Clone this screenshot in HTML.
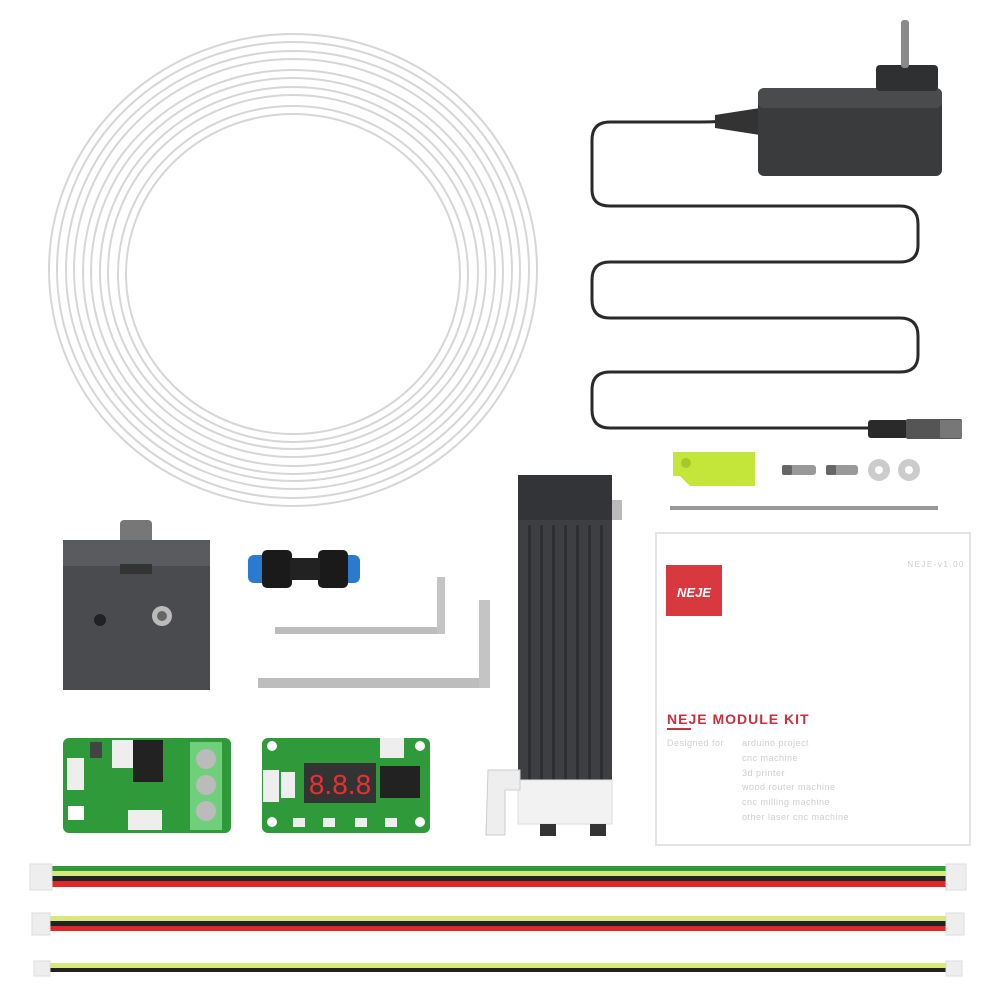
<!DOCTYPE html>
<html><head><style>
html,body{margin:0;padding:0;background:#fff;width:1000px;height:1000px;overflow:hidden}
svg{display:block}
text{font-family:"Liberation Sans",sans-serif}
</style></head><body>
<svg width="1000" height="1000" viewBox="0 0 1000 1000" xmlns="http://www.w3.org/2000/svg">
<rect width="1000" height="1000" fill="#fff"/>
<!-- tube coil -->
<g fill="none" stroke="#d6d6d6" stroke-width="2">
<ellipse cx="293" cy="270" rx="244" ry="236"/>
<ellipse cx="293" cy="270" rx="236" ry="228"/>
<ellipse cx="293" cy="270" rx="227" ry="219"/>
<ellipse cx="293" cy="270" rx="219" ry="211"/>
<ellipse cx="293" cy="272" rx="210" ry="202"/>
<ellipse cx="293" cy="272" rx="202" ry="194"/>
<ellipse cx="293" cy="272" rx="193" ry="185"/>
<ellipse cx="293" cy="272" rx="185" ry="177"/>
<ellipse cx="293" cy="274" rx="175" ry="168"/>
<ellipse cx="293" cy="274" rx="167" ry="160"/>
</g>
<!-- adapter cable -->
<path d="M760 120 L735 120 Q720 122 700 122 L610 122 Q592 122 592 140 L592 190 Q592 206 610 206 L900 206 Q918 206 918 224 L918 245 Q918 262 900 262 L610 262 Q592 262 592 280 L592 300 Q592 318 610 318 L900 318 Q918 318 918 336 L918 355 Q918 372 900 372 L610 372 Q592 372 592 390 L592 410 Q592 428 610 428 L872 428" fill="none" stroke="#2a2a2a" stroke-width="3"/>
<path d="M715 115 L760 108 L760 135 L715 128 Z" fill="#333"/>
<rect x="758" y="88" width="184" height="88" rx="6" fill="#3a3b3d"/>
<rect x="758" y="88" width="184" height="20" rx="6" fill="#4a4b4d"/>
<rect x="876" y="65" width="62" height="26" rx="4" fill="#2f3032"/>
<rect x="901" y="20" width="8" height="48" rx="3" fill="#8a8a8a"/>
<!-- dc plug -->
<rect x="868" y="420" width="40" height="18" rx="3" fill="#2a2a2a"/>
<rect x="906" y="419" width="56" height="20" rx="2" fill="#555"/>
<rect x="940" y="420" width="22" height="18" fill="#777"/>
<!-- bracket, screws, washers -->
<path d="M673 452 L755 452 L755 486 L690 486 L680 476 L673 476 Z" fill="#c4e63a"/>
<rect x="681" y="458" width="10" height="10" rx="5" fill="#a8c82a"/>
<rect x="782" y="465" width="34" height="10" rx="3" fill="#999"/>
<rect x="782" y="465" width="10" height="10" rx="2" fill="#666"/>
<rect x="826" y="465" width="32" height="10" rx="3" fill="#999"/>
<rect x="826" y="465" width="10" height="10" rx="2" fill="#666"/>
<circle cx="879" cy="470" r="11" fill="#ccc"/><circle cx="879" cy="470" r="4" fill="#fff"/>
<circle cx="909" cy="470" r="11" fill="#ccc"/><circle cx="909" cy="470" r="4" fill="#fff"/>
<rect x="670" y="506" width="268" height="4" fill="#999"/>
<!-- manual -->
<rect x="656" y="533" width="314" height="312" fill="#fff" stroke="#e4e4e4" stroke-width="2"/>
<rect x="666" y="565" width="56" height="51" fill="#d8393f"/>
<text x="694" y="597" font-size="13" font-weight="bold" font-style="italic" fill="#fff" text-anchor="middle">NEJE</text>
<text x="965" y="567" font-size="8" fill="#ccc" text-anchor="end" letter-spacing="1.5">NEJE-v1.00</text>
<text x="667" y="724" font-size="14" font-weight="bold" fill="#c8313c" letter-spacing="1">NEJE MODULE KIT</text>
<rect x="667" y="728" width="24" height="2" fill="#c8313c"/>
<g font-size="9" fill="#cfcfcf" letter-spacing="0.5">
<text x="667" y="746">Designed for</text>
<text x="742" y="746">arduino project</text>
<text x="742" y="761">cnc machine</text>
<text x="742" y="776">3d printer</text>
<text x="742" y="790">wood router machine</text>
<text x="742" y="805">cnc milling machine</text>
<text x="742" y="820">other laser cnc machine</text>
</g>
<!-- metal block -->
<rect x="120" y="520" width="32" height="24" rx="4" fill="#777"/>
<rect x="63" y="540" width="147" height="150" fill="#4a4b4e"/>
<rect x="63" y="540" width="147" height="26" fill="#5a5b5e"/>
<rect x="120" y="564" width="32" height="10" fill="#333"/>
<circle cx="100" cy="620" r="6" fill="#222"/>
<circle cx="162" cy="616" r="10" fill="#bbb"/><circle cx="162" cy="616" r="5" fill="#666"/>
<!-- coupler -->
<rect x="248" y="555" width="20" height="28" rx="6" fill="#2a7ad0"/>
<rect x="340" y="555" width="20" height="28" rx="6" fill="#2a7ad0"/>
<rect x="262" y="550" width="30" height="38" rx="5" fill="#1a1a1a"/>
<rect x="318" y="550" width="30" height="38" rx="5" fill="#1a1a1a"/>
<rect x="290" y="558" width="30" height="22" fill="#222"/>
<!-- allen keys -->
<rect x="275" y="627" width="170" height="7" fill="#bdbdbd"/>
<rect x="437" y="577" width="8" height="57" fill="#c4c4c4"/>
<rect x="258" y="678" width="232" height="10" fill="#bdbdbd"/>
<rect x="479" y="600" width="11" height="88" fill="#c4c4c4"/>
<!-- laser module -->
<rect x="600" y="500" width="22" height="20" fill="#bbb"/>
<rect x="518" y="475" width="94" height="310" fill="#3e3f42"/>
<g fill="#2e2f31"><rect x="528" y="525" width="3" height="255"/><rect x="540" y="525" width="3" height="255"/><rect x="552" y="525" width="3" height="255"/><rect x="564" y="525" width="3" height="255"/><rect x="576" y="525" width="3" height="255"/><rect x="588" y="525" width="3" height="255"/><rect x="600" y="525" width="3" height="255"/></g>
<rect x="518" y="475" width="94" height="45" fill="#333437"/>
<rect x="518" y="780" width="94" height="44" fill="#f2f2f2" stroke="#ddd"/>
<rect x="540" y="824" width="16" height="12" fill="#333"/><rect x="590" y="824" width="16" height="12" fill="#333"/>
<path d="M488 770 L520 770 L520 790 L505 790 L505 835 L486 835 Z" fill="#eee" stroke="#ccc"/>
<!-- pcb 1 -->
<rect x="63" y="738" width="168" height="95" rx="6" fill="#2f9a3a"/>
<rect x="90" y="742" width="12" height="16" fill="#444"/>
<rect x="112" y="740" width="22" height="28" fill="#eee"/>
<rect x="133" y="740" width="30" height="42" fill="#222"/>
<rect x="67" y="758" width="17" height="32" fill="#eee"/>
<rect x="68" y="806" width="16" height="14" fill="#fff"/>
<rect x="128" y="810" width="34" height="20" fill="#eee"/>
<rect x="190" y="742" width="32" height="88" fill="#6fcf7a"/>
<circle cx="206" cy="759" r="10" fill="#bbb"/><circle cx="206" cy="785" r="10" fill="#bbb"/><circle cx="206" cy="811" r="10" fill="#bbb"/>
<!-- pcb 2 -->
<rect x="262" y="738" width="168" height="95" rx="6" fill="#2f9a3a"/>
<circle cx="272" cy="746" r="5" fill="#fff"/><circle cx="420" cy="746" r="5" fill="#fff"/>
<circle cx="272" cy="822" r="5" fill="#fff"/><circle cx="420" cy="822" r="5" fill="#fff"/>
<rect x="380" y="738" width="24" height="20" fill="#eee"/>
<rect x="263" y="770" width="16" height="32" fill="#eee"/>
<rect x="281" y="772" width="14" height="26" fill="#eee"/>
<rect x="304" y="763" width="72" height="40" fill="#333"/>
<text x="340" y="794" font-size="28" fill="#e83030" text-anchor="middle" font-family="Liberation Mono">8.8.8</text>
<rect x="380" y="766" width="40" height="32" fill="#222"/>
<g fill="#eee"><rect x="293" y="818" width="12" height="9"/><rect x="323" y="818" width="12" height="9"/><rect x="355" y="818" width="12" height="9"/><rect x="385" y="818" width="12" height="9"/></g>
<!-- cables -->
<rect x="50" y="866" width="900" height="5" fill="#2e9a3a"/>
<rect x="50" y="871" width="900" height="5" fill="#d8e87a"/>
<rect x="50" y="876" width="900" height="5" fill="#222"/>
<rect x="50" y="881" width="900" height="6" fill="#e02828"/>
<rect x="30" y="864" width="22" height="26" fill="#eee" stroke="#ddd"/>
<rect x="946" y="864" width="20" height="26" fill="#eee" stroke="#ddd"/>
<rect x="48" y="916" width="902" height="5" fill="#d8e87a"/>
<rect x="48" y="921" width="902" height="5" fill="#222"/>
<rect x="48" y="926" width="902" height="5" fill="#e02828"/>
<rect x="32" y="913" width="18" height="22" fill="#eee" stroke="#ddd"/>
<rect x="946" y="913" width="18" height="22" fill="#eee" stroke="#ddd"/>
<rect x="48" y="963" width="902" height="5" fill="#d8e87a"/>
<rect x="48" y="968" width="902" height="4" fill="#222"/>
<rect x="34" y="961" width="16" height="15" fill="#eee" stroke="#ddd"/>
<rect x="946" y="961" width="16" height="15" fill="#eee" stroke="#ddd"/>
</svg>
</body></html>
